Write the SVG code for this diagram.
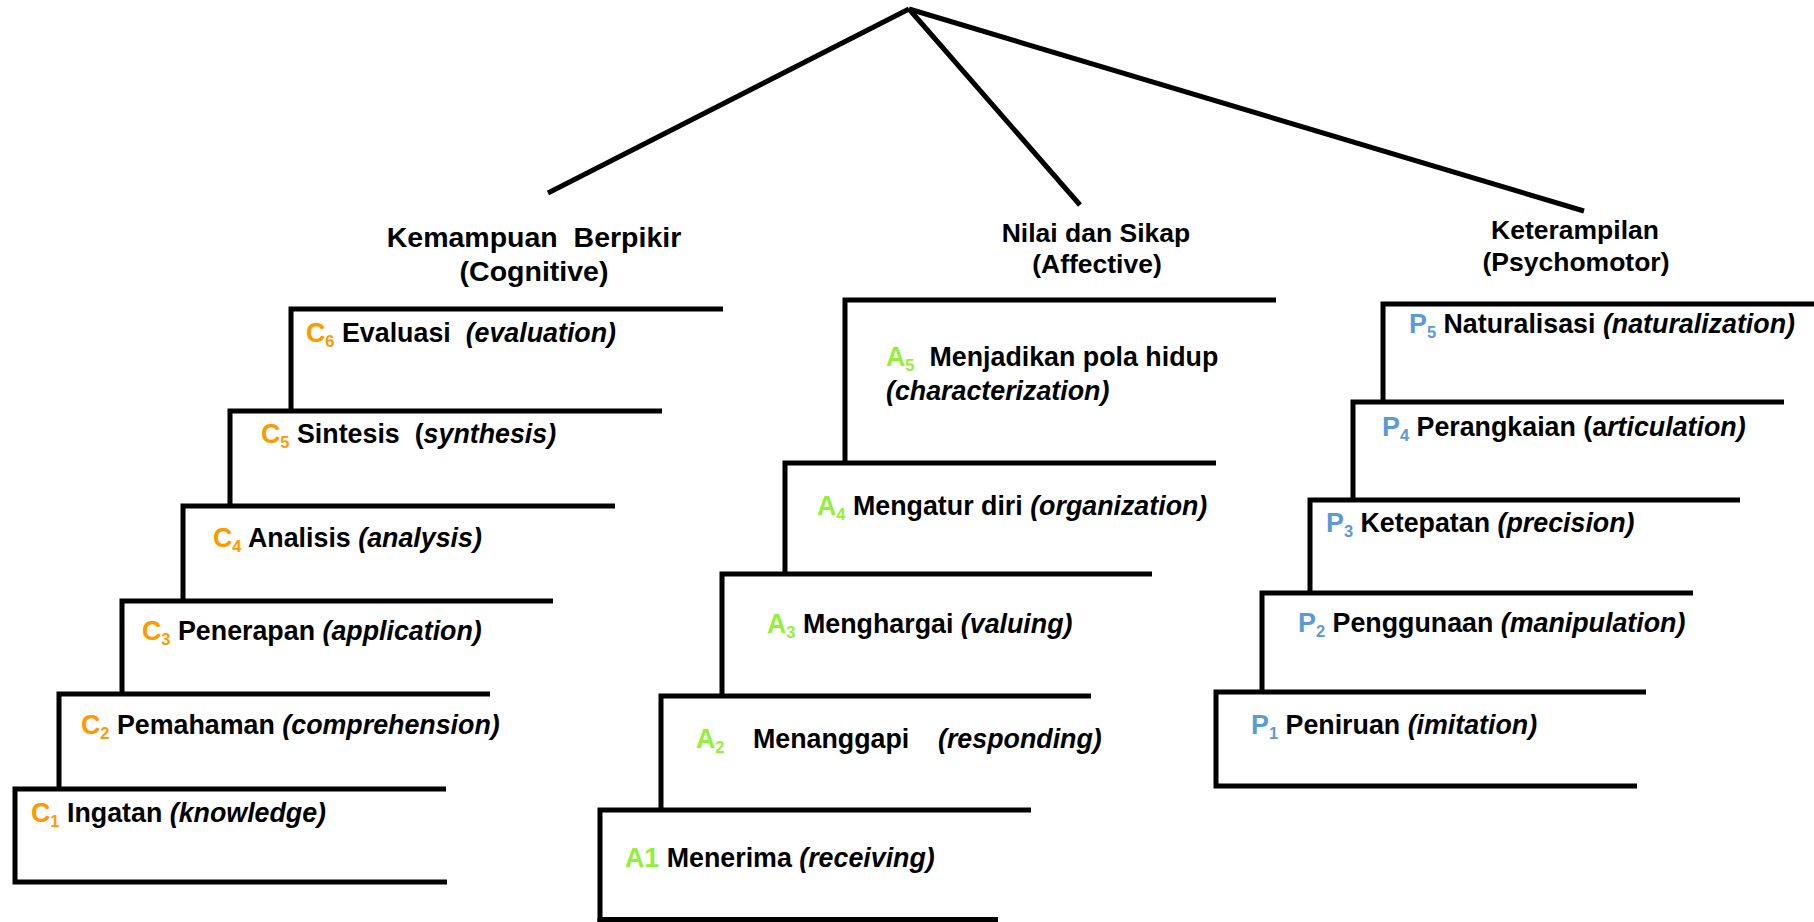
<svg xmlns="http://www.w3.org/2000/svg" width="1814" height="922" viewBox="0 0 1814 922">
<style>
.t{font-family:"Liberation Sans",Arial,sans-serif;font-weight:bold;font-size:26.8px;fill:#000}
.h{font-family:"Liberation Sans",Arial,sans-serif;font-weight:bold;font-size:26.5px;fill:#000;text-anchor:middle}
.hc{font-size:28.5px}
.i{font-style:italic}
.s{font-size:16.5px}
.c{fill:#FF9900}
.a{fill:#92F03A}
.p{fill:#5B9BD5}
.step{fill:none;stroke:#000;stroke-width:5;stroke-linejoin:miter;stroke-linecap:butt}
.conn{fill:none;stroke:#000;stroke-width:5;stroke-linecap:butt}
</style>
<rect width="1814" height="922" fill="#fff"/>
<g id="connectors">
<line class="conn" x1="909" y1="9" x2="548" y2="193"/>
<line class="conn" x1="909" y1="9" x2="1080" y2="205"/>
<line class="conn" x1="909" y1="9" x2="1584" y2="211"/>
</g>
<g id="head-cognitive">
<text class="h hc" x="534" y="247" xml:space="preserve">Kemampuan  Berpikir</text>
<text class="h hc" x="534" y="281">(Cognitive)</text>
</g>
<g id="head-affective">
<text class="h" x="1096" y="242">Nilai dan Sikap</text>
<text class="h" x="1097" y="273">(Affective)</text>
</g>
<g id="head-psychomotor">
<text class="h" x="1575" y="239">Keterampilan</text>
<text class="h" x="1576" y="271">(Psychomotor)</text>
</g>
<g id="C6">
<polyline class="step" points="291,411 291,309 723,309"/>
<text class="t" x="306" y="342" xml:space="preserve"><tspan class="c">C</tspan><tspan class="c s" dy="5">6</tspan><tspan dy="-5"> Evaluasi  </tspan><tspan class="i">(evaluation)</tspan></text>
</g>
<g id="C5">
<polyline class="step" points="230,506 230,411 662,411"/>
<text class="t" x="261" y="443" xml:space="preserve"><tspan class="c">C</tspan><tspan class="c s" dy="5">5</tspan><tspan dy="-5"> Sintesis  (</tspan><tspan class="i">synthesis)</tspan></text>
</g>
<g id="C4">
<polyline class="step" points="183,601 183,506 615,506"/>
<text class="t" x="213" y="547" xml:space="preserve"><tspan class="c">C</tspan><tspan class="c s" dy="5">4</tspan><tspan dy="-5"> Analisis </tspan><tspan class="i">(analysis)</tspan></text>
</g>
<g id="C3">
<polyline class="step" points="122,694 122,601 553,601"/>
<text class="t" x="142" y="640" xml:space="preserve"><tspan class="c">C</tspan><tspan class="c s" dy="5">3</tspan><tspan dy="-5"> Penerapan </tspan><tspan class="i">(application)</tspan></text>
</g>
<g id="C2">
<polyline class="step" points="59,789 59,694 490,694"/>
<text class="t" x="81" y="734" xml:space="preserve"><tspan class="c">C</tspan><tspan class="c s" dy="5">2</tspan><tspan dy="-5"> Pemahaman </tspan><tspan class="i">(comprehension)</tspan></text>
</g>
<g id="C1">
<polyline class="step" points="446,789 15,789 15,882 447,882"/>
<text class="t" x="31" y="822" xml:space="preserve"><tspan class="c">C</tspan><tspan class="c s" dy="5">1</tspan><tspan dy="-5"> Ingatan </tspan><tspan class="i">(knowledge)</tspan></text>
</g>
<g id="A5">
<polyline class="step" points="845,463 845,300 1276,300"/>
<text class="t" x="886" y="366" xml:space="preserve"><tspan class="a">A</tspan><tspan class="a s" dy="5">5</tspan><tspan dy="-5">  Menjadikan pola hidup</tspan></text>
<text class="t i" x="886" y="400">(characterization)</text>
</g>
<g id="A4">
<polyline class="step" points="785,574 785,463 1216,463"/>
<text class="t" x="817" y="515" xml:space="preserve"><tspan class="a">A</tspan><tspan class="a s" dy="5">4</tspan><tspan dy="-5"> Mengatur diri </tspan><tspan class="i">(organization)</tspan></text>
</g>
<g id="A3">
<polyline class="step" points="722,696 722,574 1152,574"/>
<text class="t" x="767" y="633" xml:space="preserve"><tspan class="a">A</tspan><tspan class="a s" dy="5">3</tspan><tspan dy="-5"> Menghargai </tspan><tspan class="i">(valuing)</tspan></text>
</g>
<g id="A2">
<polyline class="step" points="661,810 661,696 1091,696"/>
<text class="t" x="696" y="748"><tspan class="a">A</tspan><tspan class="a s" dy="5">2</tspan><tspan x="753" dy="-5">Menanggapi</tspan><tspan class="i" x="938">(responding)</tspan></text>
</g>
<g id="A1">
<polyline class="step" points="1031,810 600,810 600,919.5 998,919.5"/>
<line class="step" x1="600" y1="918" x2="600" y2="922"/>
<text class="t" x="625" y="867" xml:space="preserve"><tspan class="a">A1</tspan> Menerima <tspan class="i">(receiving)</tspan></text>
</g>
<g id="P5">
<polyline class="step" points="1383,402 1383,304 1814,304"/>
<text class="t" x="1409" y="333" xml:space="preserve"><tspan class="p">P</tspan><tspan class="p s" dy="5">5</tspan><tspan dy="-5"> Naturalisasi </tspan><tspan class="i">(naturalization)</tspan></text>
</g>
<g id="P4">
<polyline class="step" points="1353,500 1353,402 1784,402"/>
<text class="t" x="1382" y="436" xml:space="preserve"><tspan class="p">P</tspan><tspan class="p s" dy="5">4</tspan><tspan dy="-5"> Perangkaian (a</tspan><tspan class="i">rticulation)</tspan></text>
</g>
<g id="P3">
<polyline class="step" points="1310,593 1310,500 1740,500"/>
<text class="t" x="1326" y="532" xml:space="preserve"><tspan class="p">P</tspan><tspan class="p s" dy="5">3</tspan><tspan dy="-5"> Ketepatan </tspan><tspan class="i">(precision)</tspan></text>
</g>
<g id="P2">
<polyline class="step" points="1262,692 1262,593 1693,593"/>
<text class="t" x="1298" y="632" xml:space="preserve"><tspan class="p">P</tspan><tspan class="p s" dy="5">2</tspan><tspan dy="-5"> Penggunaan </tspan><tspan class="i">(manipulation)</tspan></text>
</g>
<g id="P1">
<polyline class="step" points="1646,692 1216,692 1216,786 1637,786"/>
<text class="t" x="1251" y="734" xml:space="preserve"><tspan class="p">P</tspan><tspan class="p s" dy="5">1</tspan><tspan dy="-5"> Peniruan </tspan><tspan class="i">(imitation)</tspan></text>
</g>
</svg>
